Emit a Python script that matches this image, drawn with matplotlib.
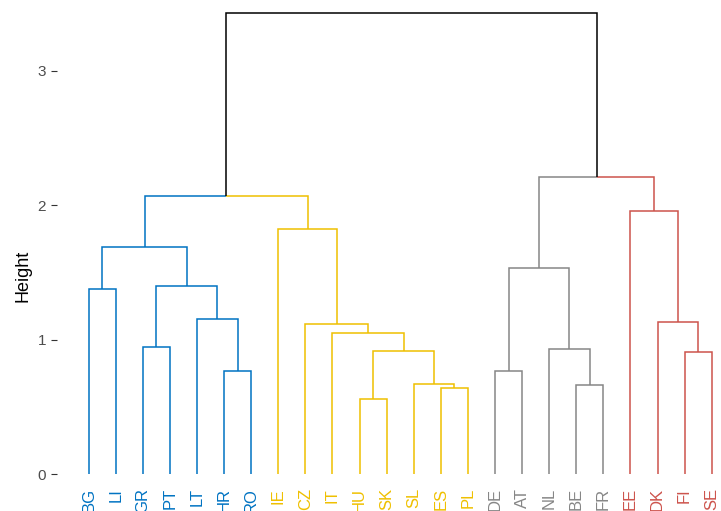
import matplotlib
matplotlib.use("Agg")
from matplotlib import pyplot as plt

plt.rcParams["font.family"] = ["Liberation Sans", "DejaVu Sans"]

# leaves in plotting order and the cluster each belongs to
leaves = ["BG", "LI", "GR", "PT", "LT", "HR", "RO", "IE", "CZ", "IT", "HU", "SK",
          "SL", "ES", "PL", "DE", "AT", "NL", "BE", "FR", "EE", "DK", "FI", "SE"]
leaf_cluster = [0, 0, 0, 0, 0, 0, 0, 1, 1, 1, 1, 1,
                1, 1, 1, 2, 2, 2, 2, 2, 3, 3, 3, 3]
cluster_colors = ["#0073C2", "#EFC000", "#868686", "#CD534C"]

# merges: children are leaf names or "m<index>" of an earlier merge
merge_left = ["BG", "HR", "GR", "LT", "m2", "m0",
              "HU", "ES", "SL", "m6", "IT", "CZ", "IE",
              "m5", "DE", "BE", "NL", "m14",
              "FI", "DK", "EE", "m17", "m13"]
merge_right = ["LI", "RO", "PT", "m1", "m3", "m4",
               "SK", "PL", "m7", "m8", "m9", "m10", "m11",
               "m12", "AT", "FR", "m15", "m16",
               "SE", "m18", "m19", "m20", "m21"]
merge_height = [1.375, 0.763, 0.944, 1.15, 1.40, 1.69,
                0.555, 0.637, 0.669, 0.912, 1.046, 1.113, 1.824,
                2.067, 0.763, 0.662, 0.927, 1.534,
                0.905, 1.132, 1.958, 2.206, 3.425]

fig = plt.figure(figsize=(7.21, 5.11), dpi=100)
W, H = 721, 511
ax = fig.add_axes([57 / W, (H - 474) / H, 659 / W, 464 / H])

node_x = {}
node_y = {}
node_cl = {}
for i, name in enumerate(leaves):
    node_x[name] = i + 1
    node_y[name] = 0.0
    node_cl[name] = leaf_cluster[i]

for i, (a, b, h) in enumerate(zip(merge_left, merge_right, merge_height)):
    key = "m%d" % i
    mid = (node_x[a] + node_x[b]) / 2
    for child in (a, b):
        color = cluster_colors[node_cl[child]] if node_cl[child] is not None else "black"
        ax.plot([mid, node_x[child], node_x[child]], [h, h, node_y[child]],
                color=color, lw=1.1, solid_capstyle="butt", solid_joinstyle="miter")
    node_x[key] = mid
    node_y[key] = h
    node_cl[key] = node_cl[a] if node_cl[a] == node_cl[b] else None

ax.set_xlim(1 - 31.7 / 27.09, len(leaves) + 4.3 / 27.09)
ax.set_ylim(0, 3.45)
for s in ax.spines.values():
    s.set_visible(False)

ax.set_yticks([0, 1, 2, 3])
ax.tick_params(axis="y", length=4, width=0.8, color="#333333", labelcolor="#4D4D4D",
               labelsize=11, pad=4)
ax.set_xticks(range(1, len(leaves) + 1))
ax.set_xticklabels(leaves, rotation=90, fontsize=12)
ax.tick_params(axis="x", length=0, pad=10)
for lab, c in zip(ax.get_xticklabels(), leaf_cluster):
    lab.set_color(cluster_colors[c])
    lab.set_va("top")

ax.set_ylabel("Height", fontsize=13, color="black")
ax.yaxis.set_label_coords(-0.038, 0.427)

fig.savefig("out.png", dpi=100)
